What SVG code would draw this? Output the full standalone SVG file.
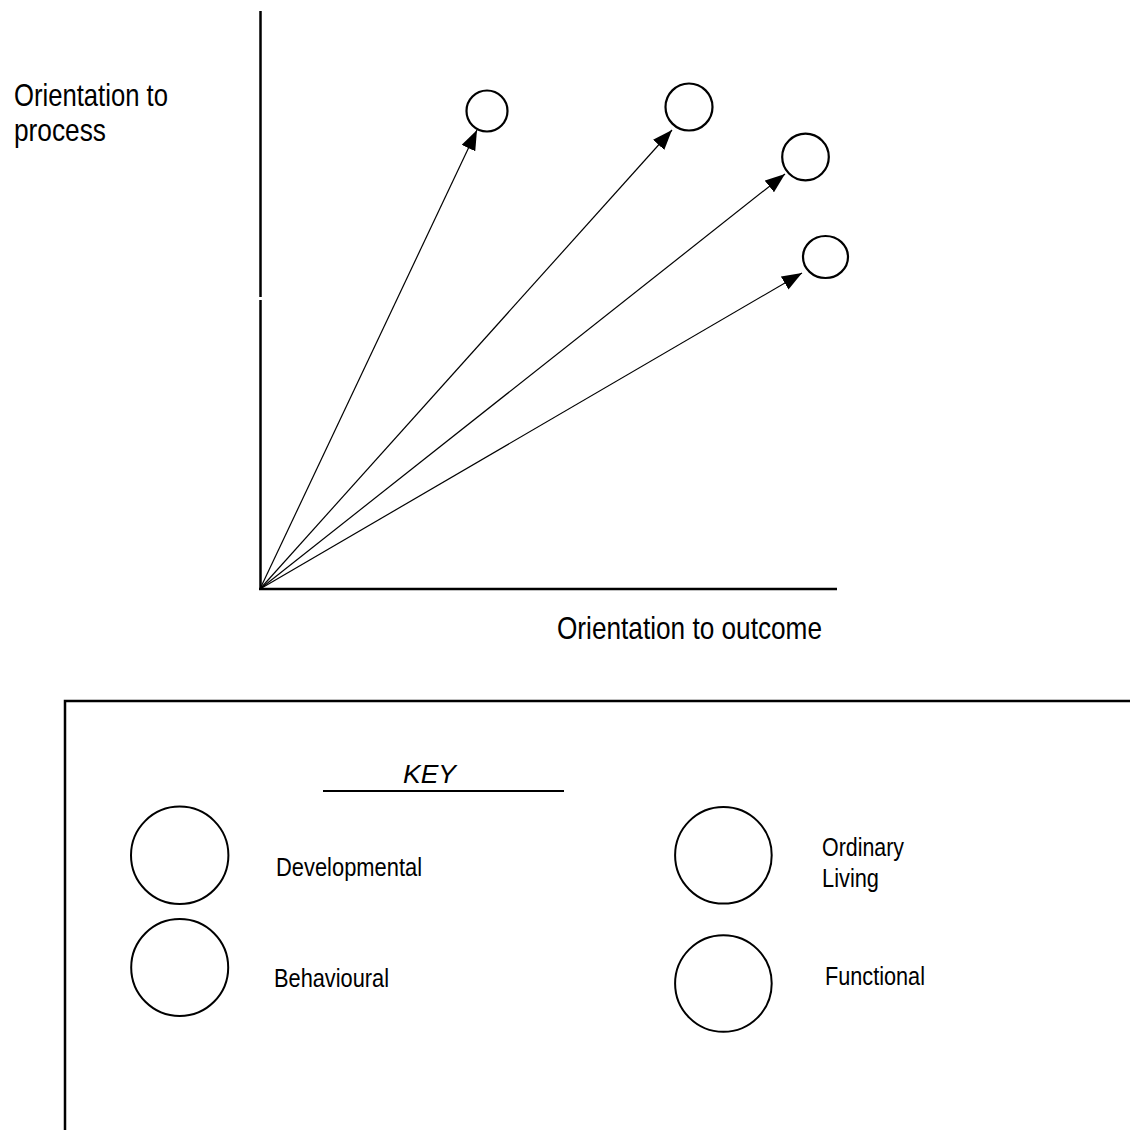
<svg xmlns="http://www.w3.org/2000/svg" width="1130" height="1130" viewBox="0 0 1130 1130">
<defs>
<style>
.axis{stroke:#000;stroke-width:2.5;fill:none}
.conn{stroke:#000;stroke-width:1.2;fill:none}
.node{stroke:#000;stroke-width:2.2;fill:#fff}
.key{stroke:#000;stroke-width:2;fill:#fff}
.lbl{font-family:"Liberation Sans Narrow","Arial Narrow","Liberation Sans",Arial,sans-serif;fill:#000}
.big{font-size:32px}
.small{font-size:25px}
</style>
<marker id="ah" markerUnits="userSpaceOnUse" markerWidth="21" markerHeight="15" refX="20" refY="7.5" orient="auto">
<path d="M0,0 L20,7.5 L0,15 z" fill="#000"/>
</marker>
</defs>
<rect width="1130" height="1130" fill="#fff"/>
<g id="axes">
<line class="axis" x1="260.5" y1="11" x2="260.5" y2="297"/>
<line class="axis" x1="260.5" y1="300" x2="260.5" y2="590"/>
<line class="axis" x1="259" y1="589" x2="837" y2="589"/>
</g>
<g id="connectors">
<line class="conn" x1="260" y1="589" x2="477" y2="130" marker-end="url(#ah)"/>
<line class="conn" x1="260" y1="589" x2="672" y2="130" marker-end="url(#ah)"/>
<line class="conn" x1="260" y1="589" x2="785" y2="174" marker-end="url(#ah)"/>
<line class="conn" x1="260" y1="589" x2="802" y2="273" marker-end="url(#ah)"/>
</g>
<g id="node1"><circle class="node" cx="487" cy="111" r="20.5"/></g>
<g id="node2"><circle class="node" cx="689" cy="107" r="23.5"/></g>
<g id="node3"><circle class="node" cx="805.5" cy="157" r="23.3"/></g>
<g id="node4"><ellipse class="node" cx="825.5" cy="257" rx="22.5" ry="21"/></g>
<g id="labels">
<text class="lbl big" x="14" y="106" textLength="154" lengthAdjust="spacingAndGlyphs">Orientation to</text>
<text class="lbl big" x="14" y="141" textLength="92" lengthAdjust="spacingAndGlyphs">process</text>
<text class="lbl big" x="557" y="639" textLength="265" lengthAdjust="spacingAndGlyphs">Orientation to outcome</text>
</g>
<g id="key">
<path class="axis" d="M65,1130 V701 H1130" stroke-width="2.2"/>
<text x="403" y="783" font-family="'Liberation Sans',Arial,sans-serif" font-style="italic" font-size="26" textLength="53" lengthAdjust="spacingAndGlyphs">KEY</text>
<line x1="323" y1="791" x2="564" y2="791" stroke="#000" stroke-width="2"/>
<g id="key-developmental"><circle class="key" cx="179.7" cy="855.3" r="48.7"/><text class="lbl small" x="276" y="876" textLength="146" lengthAdjust="spacingAndGlyphs">Developmental</text></g>
<g id="key-behavioural"><circle class="key" cx="179.7" cy="967.5" r="48.5"/><text class="lbl small" x="274" y="987" textLength="115" lengthAdjust="spacingAndGlyphs">Behavioural</text></g>
<g id="key-ordinary"><circle class="key" cx="723.4" cy="855.3" r="48.3"/><text class="lbl small" x="822" y="856" textLength="82" lengthAdjust="spacingAndGlyphs">Ordinary</text><text class="lbl small" x="822" y="887" textLength="57" lengthAdjust="spacingAndGlyphs">Living</text></g>
<g id="key-functional"><circle class="key" cx="723.4" cy="983.5" r="48.3"/><text class="lbl small" x="825" y="985" textLength="100" lengthAdjust="spacingAndGlyphs">Functional</text></g>
</g>
</svg>
